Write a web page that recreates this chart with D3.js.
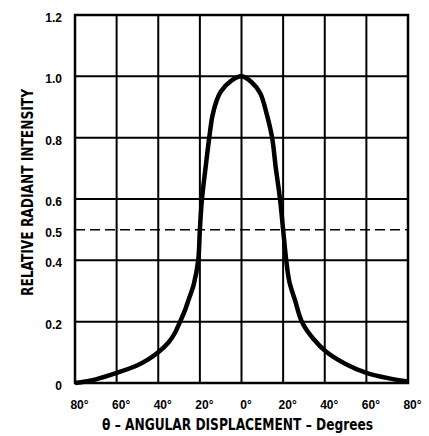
<!DOCTYPE html>
<meta charset="utf-8">
<style>
body { margin: 0; background: #fff; }
.tick text { font: bold 12px "Liberation Sans", Arial, sans-serif; fill: #000; }
.title { font-family: "Liberation Sans Narrow", "DejaVu Sans Condensed", "Liberation Sans", sans-serif; font-weight: bold; fill: #000; }
</style>
<svg width="429" height="436"></svg>
<script src="https://d3js.org/d3.v7.min.js"></script>
<script>

// angle in degrees, relative intensity
var angles    = [-80, -75, -70, -60, -50, -45, -40, -35, -32, -29.5, -27, -25.5, -23, -20.8, -20, -19, -17.3, -15.5, -14, -12, -10, -5, 0,
                 5, 9, 12, 14.7, 16.5, 18.5, 20, 21.5, 23, 25.7, 29, 34.4, 41, 50, 60, 71, 80];
var intensity = [0, 0.005, 0.012, 0.033, 0.058, 0.076, 0.1, 0.133, 0.163, 0.2, 0.24, 0.27, 0.32, 0.4, 0.5, 0.6, 0.7, 0.8, 0.87, 0.92, 0.95, 0.985, 1.0,
                 0.98, 0.945, 0.88, 0.8, 0.7, 0.6, 0.5, 0.4, 0.33, 0.27, 0.2, 0.145, 0.1, 0.062, 0.033, 0.015, 0.005];

var xTicks = [-80, -60, -40, -20, 0, 20, 40, 60, 80];
var yGrid = [0, 0.2, 0.4, 0.6, 0.8, 1.0, 1.2];
var yLabels = [0, 0.2, 0.4, 0.5, 0.6, 0.8, 1.0, 1.2];
var halfPower = 0.5;

var svg = d3.select("svg"),
    plotLeft = 75, plotRight = 408, plotTop = 15, plotBottom = 383;

var x = d3.scaleLinear().domain([-80, 80]).range([plotLeft, plotRight]);
var y = d3.scaleLinear().domain([0, 1.2]).range([plotBottom, plotTop]);

// grid
svg.append("g").selectAll("line")
  .data(xTicks)
  .join("line")
    .attr("x1", d => x(d)).attr("x2", d => x(d))
    .attr("y1", plotTop).attr("y2", plotBottom)
    .attr("stroke", "#000").attr("stroke-width", 2);

svg.append("g").selectAll("line")
  .data(yGrid)
  .join("line")
    .attr("x1", plotLeft).attr("x2", plotRight)
    .attr("y1", d => y(d)).attr("y2", d => y(d))
    .attr("stroke", "#000").attr("stroke-width", 2);

svg.append("rect")
    .attr("x", plotLeft).attr("y", plotTop)
    .attr("width", plotRight - plotLeft).attr("height", plotBottom - plotTop)
    .attr("fill", "none").attr("stroke", "#000").attr("stroke-width", 2.5);

// 50% line
svg.append("line")
    .attr("x1", plotLeft).attr("x2", plotRight)
    .attr("y1", y(halfPower)).attr("y2", y(halfPower))
    .attr("stroke", "#000").attr("stroke-width", 1.5)
    .attr("stroke-dasharray", "10,5");

// axes (labels only)
svg.append("g")
    .attr("transform", "translate(0," + plotBottom + ")")
    .call(d3.axisBottom(x).tickValues(xTicks).tickSize(0).tickPadding(17)
      .tickFormat(d => Math.abs(d) + "°"))
    .call(g => g.select(".domain").remove())
    .call(g => g.selectAll("text").attr("dx", 4));

svg.append("g")
    .attr("transform", "translate(" + plotLeft + ",0)")
    .call(d3.axisLeft(y).tickValues(yLabels).tickSize(0).tickPadding(13)
      .tickFormat(d => d === 0 ? "0" : d3.format(".1f")(d)))
    .call(g => g.select(".domain").remove())
    .call(g => g.selectAll("text").attr("dy", "0.55em"));

// curve
var pts = angles.map((a, i) => [a, intensity[i]]);
svg.append("path")
    .datum(pts)
    .attr("fill", "none")
    .attr("stroke", "#000")
    .attr("stroke-width", 4.5)
    .attr("stroke-linejoin", "round")
    .attr("d", d3.line().x(d => x(d[0])).y(d => y(d[1])).curve(d3.curveCatmullRom.alpha(0.5)));

// titles
svg.append("text")
    .attr("class", "title")
    .attr("x", 102).attr("y", 430)
    .attr("font-size", 16)
    .attr("textLength", 271)
    .attr("lengthAdjust", "spacingAndGlyphs")
    .text("θ – ANGULAR DISPLACEMENT – Degrees");

svg.append("text")
    .attr("class", "title")
    .attr("transform", "translate(33,296) rotate(-90)")
    .attr("font-size", 16)
    .attr("textLength", 207)
    .attr("lengthAdjust", "spacingAndGlyphs")
    .text("RELATIVE RADIANT INTENSITY");

</script>
